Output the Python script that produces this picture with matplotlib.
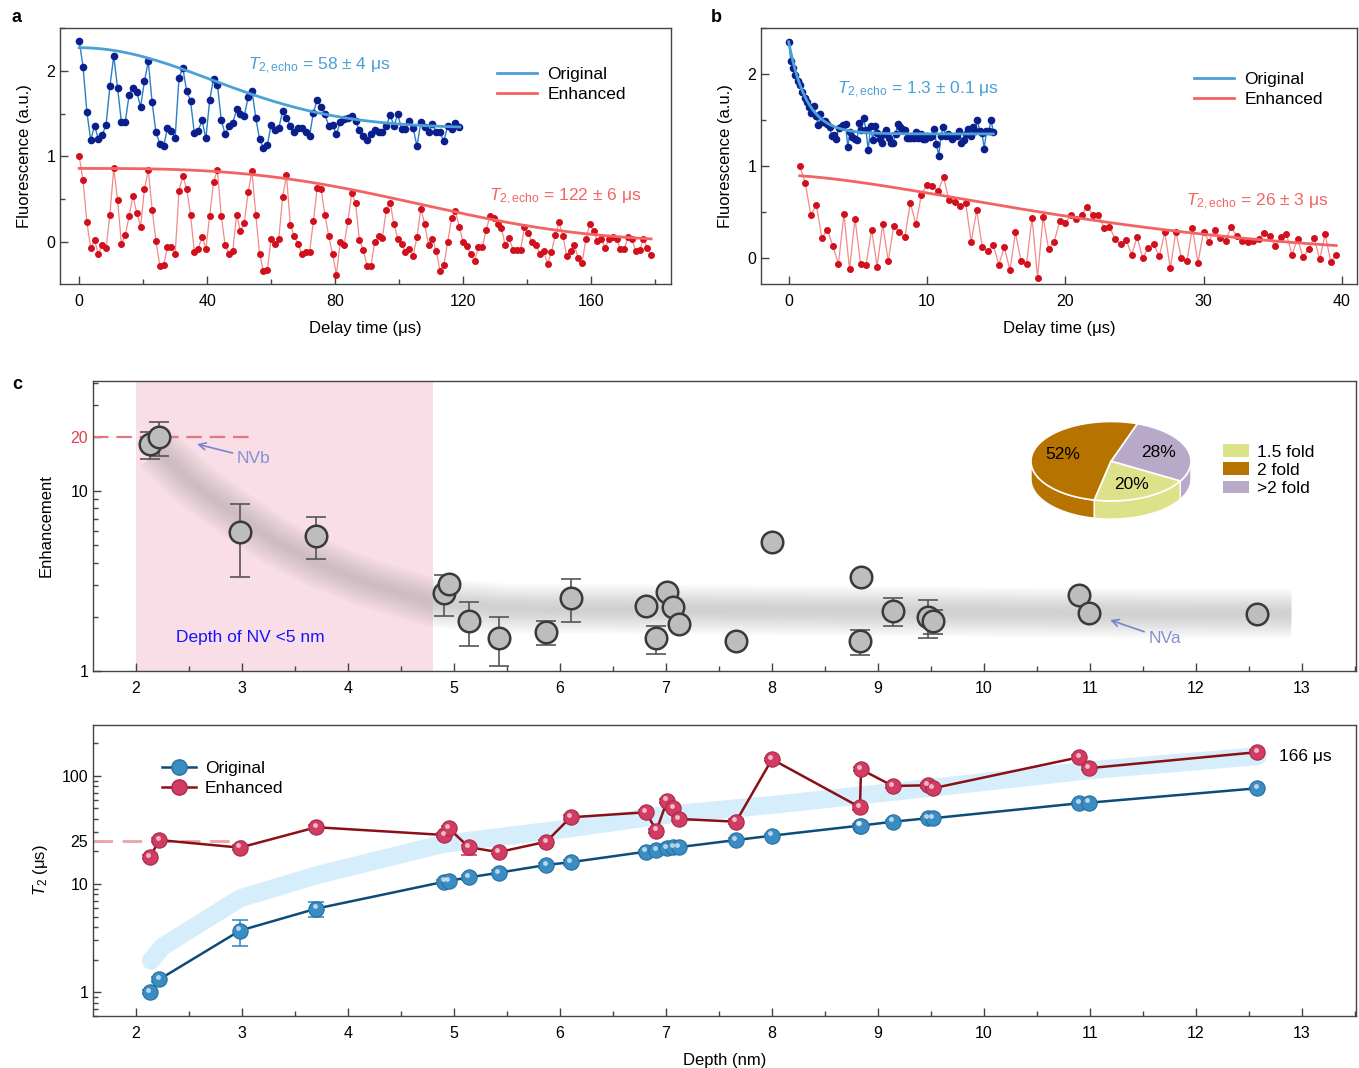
import numpy as np
import matplotlib
matplotlib.use('Agg')
import matplotlib.pyplot as plt
from matplotlib.patches import Patch, Polygon
from matplotlib.lines import Line2D
from matplotlib.ticker import LogLocator, NullFormatter, FixedLocator, MultipleLocator
import matplotlib.transforms as mtransforms

plt.rcParams['font.family'] = ['Liberation Sans', 'DejaVu Sans']
plt.rcParams['mathtext.fontset'] = 'custom'
plt.rcParams['mathtext.rm'] = 'Liberation Sans'
plt.rcParams['mathtext.it'] = 'Liberation Sans:italic'
plt.rcParams['mathtext.bf'] = 'Liberation Sans:bold'

# ---------------- DATA ----------------
# panel a
a_dt = 1.2
a_orig = [2.35, 2.05, 1.52, 1.19, 1.36, 1.20, 1.25, 1.37, 1.82, 2.17, 1.80, 1.40, 1.40, 1.72, 1.80, 1.75,
          1.58, 1.88, 2.11, 1.63, 1.28, 1.15, 1.12, 1.33, 1.30, 1.22, 1.92, 2.03, 1.76, 1.65, 1.27, 1.30,
          1.42, 1.21, 1.66, 1.91, 1.84, 1.43, 1.26, 1.35, 1.39, 1.55, 1.49, 1.47, 1.69, 1.77, 1.45, 1.20,
          1.10, 1.13, 1.37, 1.31, 1.33, 1.53, 1.45, 1.36, 1.28, 1.33, 1.33, 1.28, 1.24, 1.51, 1.66, 1.58,
          1.49, 1.36, 1.37, 1.26, 1.40, 1.44, 1.45, 1.47, 1.41, 1.31, 1.24, 1.19, 1.26, 1.31, 1.28, 1.28,
          1.36, 1.48, 1.36, 1.49, 1.32, 1.32, 1.41, 1.33, 1.12, 1.40, 1.34, 1.28, 1.38, 1.28, 1.28, 1.18,
          1.36, 1.32, 1.39, 1.34]
a_enh = [1.00, 0.72, 0.23, -0.07, 0.02, -0.14, -0.04, -0.07, 0.32, 0.86, 0.49, -0.02, 0.08, 0.30, 0.54,
         0.34, 0.18, 0.62, 0.84, 0.38, 0.01, -0.28, -0.27, -0.06, -0.06, -0.14, 0.60, 0.77, 0.62, 0.32,
         -0.12, -0.08, 0.06, -0.08, 0.31, 0.70, 0.84, 0.31, -0.03, -0.14, -0.11, 0.32, 0.13, 0.22, 0.58,
         0.83, 0.32, -0.14, -0.34, -0.33, 0.04, -0.02, 0.04, 0.53, 0.78, 0.20, 0.07, -0.02, -0.14, -0.12,
         -0.12, 0.24, 0.63, 0.62, 0.32, 0.07, -0.14, -0.38, 0.00, -0.03, 0.24, 0.57, 0.46, 0.02, -0.09,
         -0.28, -0.28, 0.00, 0.07, 0.05, 0.38, 0.46, 0.21, 0.04, -0.02, -0.12, -0.08, -0.16, 0.06, 0.39,
         0.21, -0.03, 0.04, -0.10, -0.34, -0.27, 0.00, 0.28, 0.36, 0.18, 0.00, -0.05, -0.14, -0.22, -0.06,
         -0.06, 0.14, 0.30, 0.28, 0.21, 0.16, -0.04, 0.05, -0.09, -0.09, -0.09, 0.18, 0.10, 0.00, -0.03,
         -0.14, -0.10, -0.26, -0.12, 0.08, 0.23, 0.07, -0.16, -0.10, -0.04, -0.19, -0.24, 0.03, 0.21, 0.13,
         0.01, 0.04, -0.07, 0.04, 0.06, 0.03, -0.08, -0.08, 0.06, 0.03, -0.11, -0.09, 0.03, -0.07, -0.15]
# fit parameters: offset, amplitude, T2, exponent, t_end
a_fit_orig = [1.33, 0.94, 58.0, 2.0, 119.0]
a_fit_enh = [0.0, 0.86, 122.0, 3.0, 178.8]

# panel b
b_orig_tend = 14.8
b_orig = [2.35, 2.14, 2.07, 1.99, 1.92, 1.88, 1.81, 1.74, 1.70, 1.64, 1.58, 1.65, 1.54, 1.45, 1.57, 1.48,
          1.49, 1.46, 1.43, 1.33, 1.34, 1.30, 1.41, 1.43, 1.45, 1.46, 1.21, 1.37, 1.32, 1.30, 1.28, 1.47,
          1.39, 1.52, 1.39, 1.17, 1.44, 1.28, 1.44, 1.36, 1.29, 1.25, 1.35, 1.39, 1.31, 1.25, 1.25, 1.35,
          1.46, 1.43, 1.40, 1.39, 1.31, 1.31, 1.31, 1.31, 1.37, 1.31, 1.35, 1.30, 1.30, 1.33, 1.32, 1.33,
          1.40, 1.24, 1.11, 1.33, 1.43, 1.33, 1.35, 1.33, 1.30, 1.33, 1.33, 1.38, 1.25, 1.28, 1.35, 1.40,
          1.33, 1.42, 1.38, 1.50, 1.38, 1.36, 1.19, 1.38, 1.38, 1.50, 1.37]
b_enh_t0, b_enh_tend = 0.8, 39.6
b_enh = [1.00, 0.82, 0.47, 0.58, 0.22, 0.31, 0.13, -0.06, 0.48, -0.12, 0.43, -0.06, -0.07, 0.31, -0.09,
         0.37, -0.03, 0.35, 0.29, 0.23, 0.60, 0.37, 0.69, 0.80, 0.78, 0.73, 0.88, 0.63, 0.61, 0.57, 0.60,
         0.18, 0.52, 0.12, 0.08, 0.14, -0.07, 0.12, -0.13, 0.28, -0.03, -0.06, 0.44, -0.21, 0.45, 0.10,
         0.18, 0.40, 0.38, 0.47, 0.43, 0.47, 0.56, 0.47, 0.47, 0.33, 0.34, 0.21, 0.15, 0.20, 0.04, 0.23,
         0.00, 0.11, 0.15, 0.02, 0.28, -0.11, 0.29, 0.00, -0.03, 0.33, -0.05, 0.29, 0.18, 0.31, 0.22, 0.19,
         0.34, 0.24, 0.19, 0.18, 0.19, 0.21, 0.27, 0.24, 0.13, 0.23, 0.26, 0.04, 0.21, 0.01, 0.10, 0.22,
         -0.01, 0.26, -0.04, 0.04]
b_fit_orig = [1.35, 1.00, 1.3, 1.0, 0.0, 14.8]
b_fit_enh = [0.0, 0.90, 26.0, 1.5, 0.8, 39.6]

# panel c / d : NV depth (nm)
depth_c = [2.13, 2.22, 2.98, 3.70, 4.91, 4.95, 5.14, 5.42, 5.87, 6.10, 6.81, 6.91, 7.01, 7.07, 7.12,
           7.66, 8.00, 8.83, 8.84, 9.14, 9.47, 9.52, 10.90, 10.99, 12.58]
enh_c = [18.2, 20.0, 5.89, 5.64, 2.72, 3.04, 1.90, 1.53, 1.65, 2.55, 2.30, 1.52, 2.76, 2.28, 1.82,
         1.46, 5.19, 1.47, 3.31, 2.15, 2.00, 1.90, 2.64, 2.09, 2.07]
enh_lo = [15.1, 15.6, 3.31, 4.17, 2.03, 2.90, 1.38, 1.06, 1.39, 1.86, 2.20, 1.24, 2.66, 2.20, 1.75,
          1.42, 5.05, 1.22, 3.20, 1.78, 1.52, 1.60, 2.55, 2.02, 2.00]
enh_hi = [21.2, 24.2, 8.45, 7.14, 3.41, 3.20, 2.43, 1.99, 1.90, 3.23, 2.40, 1.78, 2.86, 2.36, 1.89,
          1.50, 5.33, 1.70, 3.42, 2.53, 2.48, 2.18, 2.73, 2.16, 2.14]
pie_labels = ['1.5 fold', '2 fold', '>2 fold']
pie_pct = [20, 52, 28]

t2_orig = [1.00, 1.31, 3.70, 5.91, 10.5, 10.7, 11.5, 12.7, 15.0, 15.9, 19.9, 20.6, 21.4, 21.9, 21.9,
           25.5, 28.0, 34.7, 34.7, 37.7, 40.6, 40.6, 55.9, 56.5, 76.9]
t2_orig_lo = [0.95, 1.24, 2.69, 4.97, 10.0, 10.2, 10.9, 12.0, 14.2, 15.0, 19.0, 19.7, 20.6, 21.0, 21.0,
              24.5, 27.0, 33.5, 33.5, 36.4, 39.3, 39.3, 54.0, 54.6, 74.0]
t2_orig_hi = [1.05, 1.38, 4.64, 6.85, 11.0, 11.2, 12.1, 13.4, 15.8, 16.8, 20.8, 21.5, 22.2, 22.8, 22.8,
              26.5, 29.0, 35.9, 35.9, 39.0, 41.9, 41.9, 57.8, 58.4, 79.8]
t2_enh = [17.7, 25.5, 21.7, 33.5, 28.4, 32.8, 21.9, 19.7, 24.6, 41.4, 46.1, 31.2, 59.0, 50.2, 40.0,
          37.7, 142.7, 51.3, 115.0, 80.7, 81.9, 76.9, 149.0, 118.0, 166.0]
t2_enh_lo = [16.9, 24.3, 20.6, 32.0, 27.2, 31.4, 18.6, 18.8, 23.5, 39.5, 44.0, 29.8, 56.5, 48.0, 38.2,
             35.8, 137.0, 48.5, 110.0, 77.0, 78.0, 73.0, 143.0, 113.0, 160.0]
t2_enh_hi = [18.5, 26.7, 22.8, 35.0, 29.6, 34.2, 22.8, 20.6, 25.7, 43.3, 48.2, 32.6, 61.5, 52.4, 41.8,
             39.6, 148.0, 54.0, 120.0, 84.5, 85.8, 80.8, 155.0, 123.0, 172.0]

# guide bands
band_c_x = [2.20, 2.35, 2.50, 2.70, 3.00, 3.30, 3.70, 4.20, 4.80, 5.50, 7.00, 9.00, 11.0, 12.9]
band_c_y = [17.0, 14.0, 11.5, 9.3, 7.0, 5.3, 4.0, 3.05, 2.40, 2.22, 2.20, 2.15, 2.10, 2.08]
band_d_x = [2.14, 2.25, 2.98, 3.71, 4.90, 6.10, 7.00, 8.00, 9.46, 11.0, 12.58]
band_d_y = [1.95, 2.63, 7.36, 12.1, 23.5, 32.8, 43.6, 53.9, 76.9, 113.0, 152.0]

# ---------------- STYLE ----------------
W, H = 1359, 1068
fig = plt.figure(figsize=(W / 100, H / 100), dpi=100)

C_BLUE_PT = '#0b1f8c'
C_BLUE_LN = '#2a7fc8'
C_BLUE_FIT = '#4ba0d6'
C_RED_PT = '#d0101c'
C_RED_LN = '#f28a8a'
C_RED_FIT = '#f26464'
SPINE = '#444444'


def px_axes(l, t, r, b):
    return fig.add_axes([l / W, 1 - b / H, (r - l) / W, (b - t) / H])


def style(ax):
    for s in ax.spines.values():
        s.set_color(SPINE)
        s.set_linewidth(1.0)
    ax.tick_params(which='both', direction='in', top=False, right=False, colors=SPINE,
                   labelcolor='black', labelsize=11.5)
    ax.tick_params(which='major', length=6, width=1)
    ax.tick_params(which='minor', length=3.5, width=1)
    ax.tick_params(axis='x', pad=7)


def fitcurve(p, t):
    c, amp, T, n = p[0], p[1], p[2], p[3]
    return c + amp * np.exp(-(t / T) ** n)


def t2label(val):
    return r'$T_{\rm 2,echo}$' + ' = ' + val


# ---- panel a ----
ax_a = px_axes(60, 28, 671, 284)
style(ax_a)
ta_o = np.arange(len(a_orig)) * a_dt
ta_e = np.arange(len(a_enh)) * a_dt
ax_a.plot(ta_o, a_orig, '-', color=C_BLUE_LN, lw=1.0, zorder=2)
ax_a.plot(ta_o, a_orig, 'o', color=C_BLUE_PT, ms=4.5, zorder=3)
ax_a.plot(ta_e, a_enh, '-', color=C_RED_LN, lw=0.9, zorder=2)
ax_a.plot(ta_e, a_enh, 'o', color=C_RED_PT, ms=4.0, zorder=3)
tf = np.linspace(0, a_fit_orig[4], 300)
ax_a.plot(tf, fitcurve(a_fit_orig, tf), color=C_BLUE_FIT, lw=2, zorder=4, label='Original')
tf = np.linspace(0, a_fit_enh[4], 300)
ax_a.plot(tf, fitcurve(a_fit_enh, tf), color=C_RED_FIT, lw=2, zorder=4, label='Enhanced')
ax_a.set_xlim(-6, 185)
ax_a.set_ylim(-0.49, 2.5)
ax_a.set_xticks([0, 40, 80, 120, 160])
ax_a.xaxis.set_minor_locator(MultipleLocator(20))
ax_a.set_yticks([0, 1, 2])
ax_a.yaxis.set_minor_locator(MultipleLocator(0.5))
ax_a.set_xlabel('Delay time (μs)', fontsize=12, labelpad=9)
ax_a.set_ylabel('Fluorescence (a.u.)', fontsize=12, labelpad=10)
ax_a.text(52.8, 2.06, t2label('58 ± 4 μs'), color=C_BLUE_FIT, fontsize=12.5, va='center')
ax_a.text(128, 0.53, t2label('122 ± 6 μs'), color=C_RED_FIT, fontsize=12.5, va='center')
ax_a.legend(loc='upper left', bbox_to_anchor=(0.69, 0.91), frameon=False, fontsize=12.5,
            handlelength=2.3, handletextpad=0.6, labelspacing=0.3)

# ---- panel b ----
ax_b = px_axes(761, 28, 1357, 284)
style(ax_b)
tb_o = np.linspace(0, b_orig_tend, len(b_orig))
tb_e = np.linspace(b_enh_t0, b_enh_tend, len(b_enh))
ax_b.plot(tb_o, b_orig, '-', color=C_BLUE_LN, lw=1.0, zorder=2)
ax_b.plot(tb_o, b_orig, 'o', color=C_BLUE_PT, ms=4.5, zorder=3)
ax_b.plot(tb_e, b_enh, '-', color=C_RED_LN, lw=0.9, zorder=2)
ax_b.plot(tb_e, b_enh, 'o', color=C_RED_PT, ms=4.0, zorder=3)
tf = np.linspace(b_fit_orig[4], b_fit_orig[5], 300)
ax_b.plot(tf, fitcurve(b_fit_orig, tf), color=C_BLUE_FIT, lw=2, zorder=4, label='Original')
tf = np.linspace(b_fit_enh[4], b_fit_enh[5], 300)
ax_b.plot(tf, fitcurve(b_fit_enh, tf), color=C_RED_FIT, lw=2, zorder=4, label='Enhanced')
ax_b.set_xlim(-2.0, 41.1)
ax_b.set_ylim(-0.28, 2.5)
ax_b.set_xticks([0, 10, 20, 30, 40])
ax_b.set_yticks([0, 1, 2])
ax_b.yaxis.set_minor_locator(MultipleLocator(0.5))
ax_b.set_xlabel('Delay time (μs)', fontsize=12, labelpad=9)
ax_b.set_ylabel('Fluorescence (a.u.)', fontsize=12, labelpad=10)
ax_b.text(3.5, 1.83, t2label('1.3 ± 0.1 μs'), color=C_BLUE_FIT, fontsize=12.5, va='center')
ax_b.text(28.7, 0.61, t2label('26 ± 3 μs'), color=C_RED_FIT, fontsize=12.5, va='center')
ax_b.legend(loc='upper left', bbox_to_anchor=(0.70, 0.89), frameon=False, fontsize=12.5,
            handlelength=2.3, handletextpad=0.6, labelspacing=0.3)

# ---- panel c ----
ax_c = px_axes(93, 381, 1356, 671)
style(ax_c)
ax_c.set_yscale('log')
ax_c.set_xlim(1.594, 13.51)
ax_c.set_ylim(1, 40.8)
ax_c.axvspan(2.0, 4.8, color='#f9dee7', zorder=0, lw=0)
# blurred gray guide band
widths = np.linspace(36, 4, 16)
for w in widths:
    ax_c.plot(band_c_x, band_c_y, color='#9a9a9a', lw=w, alpha=0.032, solid_capstyle='butt',
              solid_joinstyle='round', zorder=1)
ax_c.plot([1.594, 3.1], [20, 20], color='#e6767e', lw=1.6, dashes=(7, 3.5), zorder=2)
yerr_c = [np.array(enh_c) - np.array(enh_lo), np.array(enh_hi) - np.array(enh_c)]
ax_c.errorbar(depth_c, enh_c, yerr=yerr_c, fmt='none', ecolor='#555555', elinewidth=1.2,
              capsize=7, capthick=1.2, zorder=3)
for x, y in zip(depth_c, enh_c):
    ax_c.plot([x], [y], 'o', ms=15.5, mfc='#bdbdbd', mec='#3a3a3a', mew=1.8, zorder=4)
ax_c.set_xticks(range(2, 14))
ax_c.xaxis.set_minor_locator(MultipleLocator(0.5))
ax_c.yaxis.set_major_locator(FixedLocator([1, 10, 20]))
ax_c.set_yticklabels(['1', '10', '20'])
ax_c.get_yticklabels()[2].set_color('#e0404a')
ax_c.yaxis.set_minor_locator(LogLocator(base=10, subs=(2, 3, 4, 5, 6, 7, 8, 9), numticks=10))
ax_c.yaxis.set_minor_formatter(NullFormatter())
ax_c.set_ylabel('Enhancement', fontsize=12, labelpad=12)
ax_c.text(3.075, 1.53, 'Depth of NV <5 nm', color='#1414ff', fontsize=12.5, ha='center', va='center')
ax_c.annotate('NVb', xy=(2.575, 18.2), xytext=(2.95, 15.2), color='#8890d0', fontsize=12.5,
              va='center', ha='left',
              arrowprops=dict(arrowstyle='->', color='#7884cc', lw=1.2, shrinkA=1, shrinkB=0))
ax_c.annotate('NVa', xy=(11.19, 1.92), xytext=(11.55, 1.51), color='#8890d0', fontsize=12.5,
              va='center', ha='left',
              arrowprops=dict(arrowstyle='->', color='#7884cc', lw=1.2, shrinkA=1, shrinkB=0))
pie_colors = ['#dde18a', '#b77300', '#b9a9c9']
ax_c.legend(handles=[Patch(facecolor=c, edgecolor='none', label=l) for c, l in zip(pie_colors, pie_labels)],
            loc='upper left', bbox_to_anchor=(0.882, 0.835), frameon=False, fontsize=12.5,
            handlelength=1.5, handleheight=0.75, handletextpad=0.5, labelspacing=0.15)

# 3D pie inset
thick = 18 / 39.5
pie_ax = fig.add_axes([1031 / W, 1 - 519 / H, 160 / W, 97.5 / H])
pie_ax.set_xlim(-1, 1)
pie_ax.set_ylim(-1 - thick, 1)
pie_ax.axis('off')
order = [2, 1, 0]  # >2 fold, 2 fold, 1.5 fold counter-clockwise from -30 deg
start = -30.0
wedges = []
for i in order:
    a0 = start
    a1 = start + pie_pct[i] * 3.6
    wedges.append((i, a0, a1))
    start = a1
for i, a0, a1 in wedges:
    th = np.radians(np.linspace(a0, a1, 200))
    front = np.sin(th) <= 0
    if front.sum() > 1:
        tf_ = th[front]
        top = np.column_stack([np.cos(tf_), np.sin(tf_)])
        bot = np.column_stack([np.cos(tf_), np.sin(tf_) - thick])[::-1]
        pie_ax.add_patch(Polygon(np.vstack([top, bot]), closed=True, facecolor=pie_colors[i],
                                 edgecolor='white', lw=1.0, zorder=1))
for i, a0, a1 in wedges:
    th = np.radians(np.linspace(a0, a1, 200))
    pts = np.vstack([[0, 0], np.column_stack([np.cos(th), np.sin(th)])])
    pie_ax.add_patch(Polygon(pts, closed=True, facecolor=pie_colors[i], edgecolor='white',
                             lw=1.2, zorder=2))
    mid = np.radians((a0 + a1) / 2)
    pie_ax.text(0.63 * np.cos(mid), 0.63 * np.sin(mid), f'{pie_pct[i]}%', fontsize=12.5,
                ha='center', va='center', zorder=3)

# ---- panel d ----
ax_d = px_axes(93, 725, 1356, 1016)
style(ax_d)
ax_d.set_yscale('log')
ax_d.set_xlim(1.594, 13.51)
ax_d.set_ylim(0.6, 296)
ax_d.plot(band_d_x, band_d_y, color='#d6eefc', lw=13, solid_capstyle='round',
          solid_joinstyle='round', zorder=1)
ax_d.plot([1.594, 3.02], [25, 25], color='#eca2a8', lw=2, dashes=(7, 3.5), zorder=2)

C_DB_LINE, C_DB_PT, C_DB_EDGE = '#0d4c78', '#3a8dc4', '#2a6f9c'
C_DR_LINE, C_DR_PT, C_DR_EDGE = '#8a1016', '#d23c62', '#a82a4a'
hl = ax_d.transData + mtransforms.ScaledTranslation(-1.2 / 72, 1.6 / 72, fig.dpi_scale_trans)

for vals, lo, hi, lc, pc, ec in [(t2_orig, t2_orig_lo, t2_orig_hi, C_DB_LINE, C_DB_PT, C_DB_EDGE),
                                 (t2_enh, t2_enh_lo, t2_enh_hi, C_DR_LINE, C_DR_PT, C_DR_EDGE)]:
    v = np.array(vals)
    ax_d.plot(depth_c, vals, '-', color=lc, lw=1.8, zorder=3)
    ax_d.errorbar(depth_c, vals, yerr=[v - np.array(lo), np.array(hi) - v], fmt='none',
                  ecolor=pc, elinewidth=1.2, capsize=6, capthick=1.2, zorder=4)
    ax_d.plot(depth_c, vals, 'o', ms=11, mfc=pc, mec=ec, mew=0.8, zorder=5, ls='none')
    ax_d.plot(depth_c, vals, 'o', ms=3.5, mfc='white', mec='none', alpha=0.65, zorder=6,
              ls='none', transform=hl)

ax_d.set_xticks(range(2, 14))
ax_d.xaxis.set_minor_locator(MultipleLocator(0.5))
ax_d.yaxis.set_major_locator(FixedLocator([1, 10, 25, 100]))
ax_d.set_yticklabels(['1', '10', '25', '100'])
ax_d.yaxis.set_minor_locator(LogLocator(base=10, subs=(2, 3, 4, 5, 6, 7, 8, 9), numticks=10))
ax_d.yaxis.set_minor_formatter(NullFormatter())
ax_d.set_xlabel('Depth (nm)', fontsize=12, labelpad=9)
ax_d.set_ylabel(r'$T_2$ (μs)', fontsize=12, labelpad=8)
ax_d.text(12.78, 150, '166 μs', fontsize=12.5, ha='left', va='center')
leg_h = [Line2D([0], [0], color=C_DB_LINE, lw=1.8, marker='o', ms=11, mfc=C_DB_PT, mec=C_DB_EDGE),
         Line2D([0], [0], color=C_DR_LINE, lw=1.8, marker='o', ms=11, mfc=C_DR_PT, mec=C_DR_EDGE)]
ax_d.legend(leg_h, ['Original', 'Enhanced'], loc='upper left', bbox_to_anchor=(0.042, 0.93),
            frameon=False, fontsize=12.5, handlelength=2.0, handletextpad=0.5, labelspacing=0.25)

# panel letters
for lab, x, y in [('a', 12, 18), ('b', 711, 18), ('c', 12, 385)]:
    fig.text(x / W, 1 - y / H, lab, fontsize=13, fontweight='bold', ha='left', va='center')

fig.savefig('out.png', dpi=100)
